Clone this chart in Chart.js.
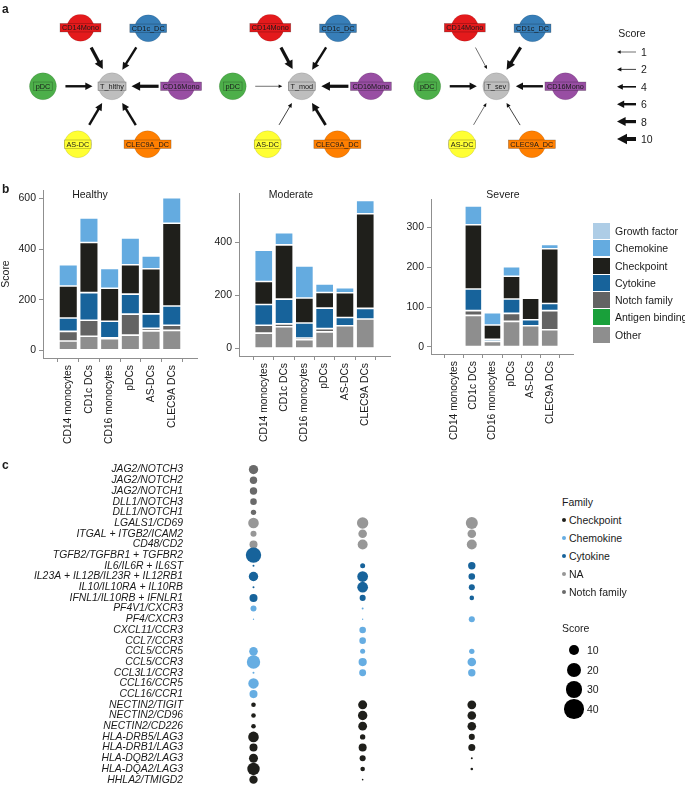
<!DOCTYPE html>
<html>
<head>
<meta charset="utf-8">
<script src="https://cdn.jsdelivr.net/npm/chart.js@4.4.1/dist/chart.umd.min.js"></script>
<style>
  body { margin: 0; background: #fff; font-family: "Liberation Sans", Arial, sans-serif; color: #1a1a1a; }
  #fig { position: relative; width: 685px; height: 786px; overflow: hidden; }
  canvas, .abs { position: absolute; }
  .txt { font-size: 10px; line-height: 1; white-space: nowrap; }
  .tag { font-size: 12px; font-weight: bold; }
</style>
</head>
<body>
<div id="fig">
  <canvas id="net" width="685" height="175" style="left:0;top:0"></canvas>
  <canvas id="barH" width="200" height="278" style="left:0;top:180px"></canvas>
  <canvas id="barM" width="193" height="276" style="left:200px;top:180px"></canvas>
  <canvas id="barS" width="181" height="274" style="left:395px;top:180px"></canvas>
  <canvas id="dots" width="545" height="352" style="left:0;top:453px"></canvas>
</div>
<script>
"use strict";

// ---- panel a: cell-cell interaction networks ----
const cellNodes = ["CD14Mono", "CD1c_DC", "pDC", "CD16Mono", "AS-DC", "CLEC9A_DC"];
const targetNodes = ["T_hlthy", "T_mod", "T_sev"];
const healthyEdge = [8, 6, 6, 8, 6, 6];
const moderateEdge = [8, 6, 1, 8, 2, 7];
const severeEdge = [1, 8, 6, 6, 1, 2];
const edgeLegend = [1, 2, 4, 6, 8, 10];

// ---- panel b: stacked scores per cell type ----
const cellTypes = ["CD14 monocytes", "CD1c DCs", "CD16 monocytes", "pDCs", "AS-DCs", "CLEC9A DCs"];
const legendFamilies = ["Growth factor", "Chemokine", "Checkpoint", "Cytokine", "Notch family", "Antigen binding", "Other"];

const healthyOther = [37, 56, 46, 60, 77, 79];
const healthyNotch = [38, 63, 4, 83, 10, 20];
const healthyCytokine = [53, 109, 65, 79, 57, 76];
const healthyCheckpoint = [126, 198, 130, 116, 178, 327];
const healthyChemokine = [84, 97, 78, 106, 51, 101];

const moderateOther = [58, 82, 33, 63, 86, 111];
const moderateNotch = [30, 11, 7, 12, 0, 0];
const moderateCytokine = [78, 93, 56, 77, 31, 40];
const moderateCheckpoint = [86, 204, 94, 59, 93, 356];
const moderateChemokine = [118, 46, 121, 32, 19, 50];

const severeOther = [0, 79, 14, 64, 53, 43];
const severeNotch = [0, 12, 0, 20, 0, 48];
const severeCytokine = [0, 54, 5, 36, 15, 18];
const severeCheckpoint = [0, 161, 36, 57, 54, 137];
const severeChemokine = [0, 47, 31, 24, 0, 11];

const healthyTicks = [0, 200, 400, 600];
const moderateTicks = [0, 200, 400];
const severeTicks = [0, 100, 200, 300];

// ---- panel c: ligand/receptor dot plot ----
const pairs = [
  "JAG2/NOTCH3", "JAG2/NOTCH2", "JAG2/NOTCH1", "DLL1/NOTCH3", "DLL1/NOTCH1",
  "LGALS1/CD69", "ITGAL + ITGB2/ICAM2", "CD48/CD2",
  "TGFB2/TGFBR1 + TGFBR2", "IL6/IL6R + IL6ST", "IL23A + IL12B/IL23R + IL12RB1",
  "IL10/IL10RA + IL10RB", "IFNL1/IL10RB + IFNLR1",
  "PF4V1/CXCR3", "PF4/CXCR3", "CXCL11/CCR3", "CCL7/CCR3", "CCL5/CCR5", "CCL5/CCR3",
  "CCL3L1/CCR3", "CCL16/CCR5", "CCL16/CCR1",
  "NECTIN2/TIGIT", "NECTIN2/CD96", "NECTIN2/CD226", "HLA-DRB5/LAG3", "HLA-DRB1/LAG3",
  "HLA-DQB2/LAG3", "HLA-DQA2/LAG3", "HHLA2/TMIGD2",
];
const pairFamily = [
  "Notch family", "Notch family", "Notch family", "Notch family", "Notch family",
  "NA", "NA", "NA",
  "Cytokine", "Cytokine", "Cytokine", "Cytokine", "Cytokine",
  "Chemokine", "Chemokine", "Chemokine", "Chemokine", "Chemokine", "Chemokine",
  "Chemokine", "Chemokine", "Chemokine",
  "Checkpoint", "Checkpoint", "Checkpoint", "Checkpoint", "Checkpoint",
  "Checkpoint", "Checkpoint", "Checkpoint",
];
const healthyScore = [9, 5.7, 5.7, 4.5, 3, 11.7, 3.8, 6.7, 24.7, 0.4, 9.2, 0.4, 6.7, 3.8, 0.2,
  null, null, 7.7, 18.7, 0.4, 11.3, 6.7, 2.2, 2.2, 2.2, 11.7, 6.7, 8.4, 16, 7.3];
const moderateScore = [null, null, null, null, null, 13.5, 7.7, 10.4, null, 2.6, 12, 12, 3.8, 0.4, 0.2,
  4.5, 4.5, 2.6, 7, 5, null, null, 8.4, 9.2, 8, 3, 6.7, 3.8, 2.2, 0.27];
const severeScore = [null, null, null, null, null, 15, 7.7, 10.4, null, 5.7, 4.5, 3.8, 2.2, null, 3.8,
  null, null, 3, 7.7, 5.7, null, null, 8, 7.7, 7.7, 3.8, 5.1, 0.4, 0.7, null];
const dotFamilies = ["Checkpoint", "Chemokine", "Cytokine", "NA", "Notch family"];
const sizeLegend = [10, 20, 30, 40];

// ---- styles ----
const cellColors = ["#e41a1c", "#377eb8", "#4daf4a", "#984ea3", "#ffff33", "#ff7f00"];
const T_COLOR = "#bebebe";
const familyColors = {
  "Growth factor": "#aecde6",
  "Chemokine": "#64abe0",
  "Checkpoint": "#1f1f1b",
  "Cytokine": "#17639b",
  "Notch family": "#636363",
  "Antigen binding": "#19a03a",
  "Other": "#8e8e8e",
};
const dotColors = {
  "Checkpoint": "#1f1f1b",
  "Chemokine": "#66ade2",
  "Cytokine": "#17639b",
  "NA": "#979797",
  "Notch family": "#6a6a6a",
};
const AXIS = "#8f8f8f";
const NODE_R = 13.5;
// network layout in units of ~70px
const NET_X = [0, 2.83, 5.73];
const RING_DX = [-0.47, 0.54, -1.03, 1.03, -0.51, 0.53];
const RING_DY = [1.0, 0.99, 0, 0, -0.99, -0.99];
const dotR = (s) => 1.55 * Math.sqrt(s);

Chart.defaults.font.family = '"Liberation Sans", Arial, sans-serif';
Chart.defaults.font.size = 10;
Chart.defaults.color = "#1a1a1a";
Chart.defaults.animation = false;
Chart.defaults.responsive = false;
Chart.defaults.events = [];
Chart.defaults.plugins.legend.display = false;
Chart.defaults.plugins.tooltip.enabled = false;

const fig = document.getElementById("fig");
function addText(txt, x, y, cls, center) {
  const el = document.createElement("div");
  el.className = "abs " + (cls || "txt");
  el.textContent = txt;
  el.style.left = x + "px";
  el.style.top = y + "px";
  el.style.transform = center ? "translate(-50%,-50%)" : "translate(0,-50%)";
  fig.appendChild(el);
  return el;
}
function addBox(x, y, w, h, color, round) {
  const el = document.createElement("div");
  el.className = "abs";
  Object.assign(el.style, {
    left: x + "px", top: y + "px", width: w + "px", height: h + "px",
    background: color, borderRadius: round ? "50%" : "0",
  });
  fig.appendChild(el);
}

function drawArrow(ctx, x0, y0, x1, y1, s) {
  const d = Math.hypot(x1 - x0, y1 - y0);
  const ux = (x1 - x0) / d, uy = (y1 - y0) / d;
  const lw = Math.max(0.6, 0.4 * s), hl = 3 + 0.7 * s, hw = 1.3 + 0.4 * s;
  const bx = x1 - ux * hl, by = y1 - uy * hl;
  ctx.save();
  ctx.strokeStyle = ctx.fillStyle = "#111";
  ctx.lineWidth = lw;
  ctx.beginPath();
  ctx.moveTo(x0, y0);
  ctx.lineTo(bx + ux, by + uy);
  ctx.stroke();
  ctx.beginPath();
  ctx.moveTo(x1, y1);
  ctx.lineTo(bx - uy * hw, by + ux * hw);
  ctx.lineTo(bx + uy * hw, by - ux * hw);
  ctx.closePath();
  ctx.fill();
  ctx.restore();
}

// ---------- panel a ----------
const netScores = [healthyEdge, moderateEdge, severeEdge];
const netPoints = [], netFill = [], netNames = [];
NET_X.forEach((cx, k) => {
  netPoints.push({ x: cx, y: 0 });
  netFill.push(T_COLOR);
  netNames.push(targetNodes[k]);
  cellNodes.forEach((c, i) => {
    netPoints.push({ x: cx + RING_DX[i], y: RING_DY[i] });
    netFill.push(cellColors[i]);
    netNames.push(c);
  });
});

const netPlugin = {
  id: "netPlugin",
  beforeDatasetsDraw(chart) {
    const ctx = chart.ctx, xs = chart.scales.x, ys = chart.scales.y;
    NET_X.forEach((cx, k) => {
      const tx = xs.getPixelForValue(cx), ty = ys.getPixelForValue(0);
      cellNodes.forEach((c, i) => {
        const sx = xs.getPixelForValue(cx + RING_DX[i]), sy = ys.getPixelForValue(RING_DY[i]);
        const d = Math.hypot(tx - sx, ty - sy), ux = (tx - sx) / d, uy = (ty - sy) / d;
        drawArrow(ctx, sx + ux * (NODE_R + 9), sy + uy * (NODE_R + 9),
          tx - ux * (NODE_R + 6), ty - uy * (NODE_R + 6), netScores[k][i]);
      });
    });
    edgeLegend.forEach((s, i) => {
      const y = 52 + i * 17.4;
      drawArrow(ctx, 636, y, 617, y, s);
    });
  },
  afterDatasetsDraw(chart) {
    const ctx = chart.ctx;
    ctx.save();
    ctx.font = '7.3px "Liberation Sans", Arial, sans-serif';
    ctx.textAlign = "center";
    ctx.textBaseline = "middle";
    chart.getDatasetMeta(0).data.forEach((pt, i) => {
      const w = ctx.measureText(netNames[i]).width + 4, h = 8.5;
      ctx.fillStyle = netFill[i];
      ctx.fillRect(pt.x - w / 2, pt.y - h / 2, w, h);
      ctx.lineWidth = 0.6;
      ctx.strokeStyle = netFill[i] === T_COLOR ? "#7a7a7a" : "rgba(0,0,0,0.35)";
      ctx.strokeRect(pt.x - w / 2, pt.y - h / 2, w, h);
      ctx.fillStyle = "#1a1a1a";
      ctx.fillText(netNames[i], pt.x, pt.y + 0.5);
    });
    ctx.restore();
  },
};

new Chart(document.getElementById("net"), {
  type: "scatter",
  data: {
    datasets: [{
      data: netPoints,
      pointRadius: NODE_R,
      pointBackgroundColor: netFill,
      pointBorderColor: "rgba(0,0,0,0.12)",
      pointBorderWidth: 0.8,
    }],
  },
  options: {
    layout: { padding: 0 },
    scales: {
      x: { display: false, min: -1.457, max: 8.33 },
      y: { display: false, min: -1.271, max: 1.229 },
    },
  },
  plugins: [netPlugin],
});

addText("a", 2, 9, "tag");
addText("Score", 632, 33, "txt", true).style.fontSize = "10.5px";
edgeLegend.forEach((s, i) => { addText(String(s), 641, 52 + i * 17.4).style.fontSize = "10.5px"; });

// ---------- panel b ----------
const stackOrder = ["Other", "Antigen binding", "Notch family", "Cytokine", "Checkpoint", "Chemokine", "Growth factor"];
const zeros = cellTypes.map(() => 0);

function makeBars(id, cols, yTicks, yWidth, padTop, withTitle) {
  const totals = cellTypes.map((_, i) => stackOrder.reduce((s, f) => s + (cols[f] ? cols[f][i] : 0), 0));
  const top = Math.max(...totals);
  return new Chart(document.getElementById(id), {
    type: "bar",
    data: {
      datasets: stackOrder.map((f) => ({
        label: f,
        data: (cols[f] || zeros).map((v, i) => ({ x: i + 1, y: v })),
        backgroundColor: familyColors[f],
        borderColor: "rgba(255,255,255,0.85)",
        borderWidth: 0.8,
        borderSkipped: false,
        categoryPercentage: 1,
        barPercentage: 0.9,
      })),
    },
    options: {
      layout: { padding: { top: padTop, right: 3, left: 0, bottom: 0 } },
      scales: {
        x: {
          type: "linear", min: 0.4, max: 6.6, stacked: true,
          afterBuildTicks: (ax) => { ax.ticks = cellTypes.map((_, i) => ({ value: i + 1 })); },
          afterFit: (ax) => { ax.height = 100; },
          ticks: { autoSkip: false, minRotation: 90, maxRotation: 90, padding: 3,
            font: { size: 10.3 }, callback: (v) => cellTypes[v - 1] },
          grid: { drawOnChartArea: false, tickLength: 4, color: AXIS },
          border: { color: AXIS },
        },
        y: {
          stacked: true, min: -0.05 * top, max: 1.05 * top,
          afterBuildTicks: (ax) => { ax.ticks = yTicks.map((v) => ({ value: v })); },
          afterFit: (ax) => { ax.width = yWidth; },
          ticks: { padding: 3, font: { size: 10.5 } },
          grid: { drawOnChartArea: false, tickLength: 4, color: AXIS },
          border: { color: AXIS },
          title: { display: withTitle, text: "Score", font: { size: 10.5 }, padding: 0 },
        },
      },
    },
  });
}

makeBars("barH", { "Other": healthyOther, "Notch family": healthyNotch, "Cytokine": healthyCytokine,
  "Checkpoint": healthyCheckpoint, "Chemokine": healthyChemokine }, healthyTicks, 43, 10, true);
makeBars("barM", { "Other": moderateOther, "Notch family": moderateNotch, "Cytokine": moderateCytokine,
  "Checkpoint": moderateCheckpoint, "Chemokine": moderateChemokine }, moderateTicks, 39, 13, false);
makeBars("barS", { "Other": severeOther, "Notch family": severeNotch, "Cytokine": severeCytokine,
  "Checkpoint": severeCheckpoint, "Chemokine": severeChemokine }, severeTicks, 36, 19, false);

addText("b", 2, 189, "tag");
addText("Healthy", 90, 194, "txt", true).style.fontSize = "10.5px";
addText("Moderate", 291, 194, "txt", true).style.fontSize = "10.5px";
addText("Severe", 503, 194, "txt", true).style.fontSize = "10.5px";
legendFamilies.forEach((f, i) => {
  const y = 231 + i * 17.25;
  addBox(593, y - 8, 17, 16, familyColors[f]);
  addText(f, 615, y).style.fontSize = "10.5px";
});

// ---------- panel c ----------
const scoreCols = [healthyScore, moderateScore, severeScore];
new Chart(document.getElementById("dots"), {
  type: "bubble",
  data: {
    datasets: dotFamilies.map((f) => ({
      label: f,
      data: scoreCols.flatMap((col, c) => col
        .map((s, r) => ({ x: c, y: r, s }))
        .filter((p) => p.s != null && pairFamily[p.y] === f)
        .map((p) => ({ x: p.x, y: p.y, r: dotR(p.s) }))),
      backgroundColor: dotColors[f],
      borderWidth: 0,
    })),
  },
  options: {
    layout: { padding: { top: 10, bottom: 20, left: 0, right: 0 } },
    scales: {
      x: { display: false, min: -0.6, max: 2.6 },
      y: {
        reverse: true, min: -0.5, max: 29.5,
        afterBuildTicks: (ax) => { ax.ticks = pairs.map((_, i) => ({ value: i })); },
        afterFit: (ax) => { ax.width = 188; },
        ticks: { autoSkip: false, padding: 5, font: { style: "italic", size: 10.4 },
          callback: (v) => pairs[v] },
        grid: { display: false, drawTicks: false },
        border: { display: false },
      },
    },
  },
});

addText("c", 2, 465, "tag");
addText("Family", 562, 502).style.fontSize = "10.5px";
dotFamilies.forEach((f, i) => {
  const y = 520 + i * 18;
  addBox(562, y - 2, 4, 4, dotColors[f], true);
  addText(f, 569, y).style.fontSize = "10.5px";
});
addText("Score", 562, 628).style.fontSize = "10.5px";
sizeLegend.forEach((s, i) => {
  const y = 650 + i * 19.6, r = dotR(s);
  addBox(574 - r, y - r, 2 * r, 2 * r, "#000", true);
  addText(String(s), 587, y).style.fontSize = "10.5px";
});
</script>
</body>
</html>
